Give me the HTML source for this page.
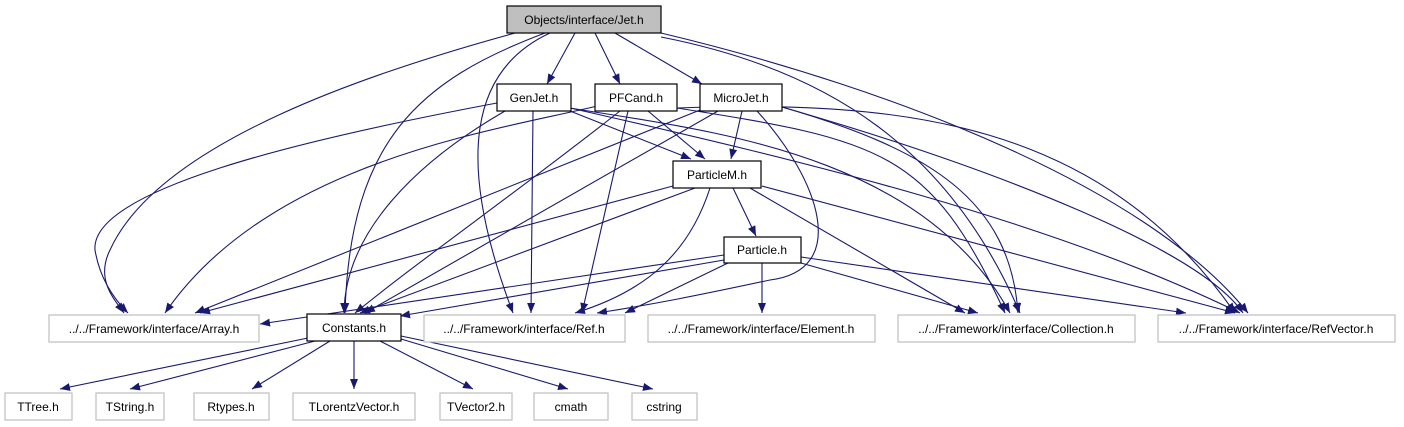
<!DOCTYPE html>
<html><head><meta charset="utf-8"><style>
html,body{margin:0;padding:0;background:#fff;}
svg{display:block;}
text{font-family:"Liberation Sans",sans-serif;font-size:12px;fill:#000;text-anchor:middle;}
.e{fill:none;stroke:#191970;stroke-width:1.1;marker-end:url(#a);}
.b{fill:#fff;stroke:#000;stroke-width:1.2;}
.g{fill:#fff;stroke:#bfbfbf;stroke-width:1.2;}
</style></head><body>
<svg width="1404" height="427" viewBox="0 0 1404 427" xmlns="http://www.w3.org/2000/svg">
<defs><marker id="a" viewBox="0 0 10 8" refX="10" refY="4" markerWidth="10" markerHeight="8" markerUnits="userSpaceOnUse" orient="auto"><path d="M0,0 L10,4 L0,8 z" fill="#191970"/></marker></defs>
<!-- Jet edges -->
<path class="e" d="M515,33 C380,70 160,140 110,250 C95,280 115,300 124,313"/>
<path class="e" d="M545,33 C420,80 350,140 345,313"/>
<path class="e" d="M550,33 C470,70 455,160 513,313"/>
<path class="e" d="M575,33 L547,84"/>
<path class="e" d="M595,33 L620,84"/>
<path class="e" d="M615,33 L702,84"/>
<path class="e" d="M661,37 C830,70 950,150 1020,313"/>
<path class="e" d="M661,33 C900,90 1150,190 1248,313"/>
<!-- GenJet -->
<path class="e" d="M497,103 C300,140 90,190 95,250 C100,280 115,300 128,313"/>
<path class="e" d="M505,111 C420,160 345,230 344,313"/>
<path class="e" d="M533,111 L531,313"/>
<path class="e" d="M570,111 L691,159"/>
<path class="e" d="M570,108 C700,130 920,150 1010,313"/>
<path class="e" d="M570,108 C800,160 1050,220 1240,313"/>
<!-- PFCand -->
<path class="e" d="M597,106 C500,130 270,160 165,313"/>
<path class="e" d="M620,111 C520,190 420,260 355,313"/>
<path class="e" d="M628,111 L582,313"/>
<path class="e" d="M648,111 L705,159"/>
<path class="e" d="M677,108 C880,140 930,150 1005,313"/>
<path class="e" d="M677,108 C900,100 1100,120 1235,313"/>
<!-- MicroJet -->
<path class="e" d="M742,111 L731,159"/>
<path class="e" d="M705,108 L195,313"/>
<path class="e" d="M718,111 L365,313"/>
<path class="e" d="M757,111 C820,180 850,270 770,280 C700,295 650,305 597,313"/>
<path class="e" d="M782,107 C930,150 1010,200 1018,313"/>
<path class="e" d="M782,107 C1000,170 1200,250 1243,313"/>
<!-- ParticleM -->
<path class="e" d="M733,188 L756,236"/>
<path class="e" d="M673,186 L200,313"/>
<path class="e" d="M695,188 L360,313"/>
<path class="e" d="M710,188 C690,250 650,290 575,313"/>
<path class="e" d="M750,188 L965,313"/>
<path class="e" d="M762,186 L1235,313"/>
<!-- Particle -->
<path class="e" d="M724,255 L260,324"/>
<path class="e" d="M724,260 L400,316"/>
<path class="e" d="M728,263 L625,313"/>
<path class="e" d="M762,263 L762,313"/>
<path class="e" d="M801,263 L978,313"/>
<path class="e" d="M801,257 L1186,313"/>
<!-- Constants -->
<path class="e" d="M308,338 L60,389"/>
<path class="e" d="M315,341 L130,389"/>
<path class="e" d="M330,341 L252,389"/>
<path class="e" d="M354,341 L354,389"/>
<path class="e" d="M380,341 L473,389"/>
<path class="e" d="M401,339 L568,389"/>
<path class="e" d="M401,336 L653,389"/>
<!-- Nodes -->
<rect x="507" y="6" width="154" height="27" fill="#bfbfbf" stroke="#000" stroke-width="1.2"/><text x="584" y="24">Objects/interface/Jet.h</text>
<rect class="b" x="497" y="84" width="74" height="27"/><text x="534" y="102">GenJet.h</text>
<rect class="b" x="595" y="84" width="82" height="27"/><text x="636" y="102">PFCand.h</text>
<rect class="b" x="700" y="84" width="82" height="27"/><text x="741" y="102">MicroJet.h</text>
<rect class="b" x="673" y="161" width="88" height="27"/><text x="717" y="179">ParticleM.h</text>
<rect class="b" x="724" y="237" width="77" height="26"/><text x="762" y="254">Particle.h</text>
<rect class="g" x="49" y="315" width="210" height="27"/><text x="154" y="333">../../Framework/interface/Array.h</text>
<rect class="b" x="307" y="314" width="94" height="27"/><text x="354" y="332">Constants.h</text>
<rect class="g" x="424" y="315" width="201" height="27"/><text x="524" y="333">../../Framework/interface/Ref.h</text>
<rect class="g" x="648" y="315" width="227" height="27"/><text x="761" y="333">../../Framework/interface/Element.h</text>
<rect class="g" x="898" y="315" width="237" height="27"/><text x="1016" y="333">../../Framework/interface/Collection.h</text>
<rect class="g" x="1158" y="315" width="237" height="27"/><text x="1276" y="333">../../Framework/interface/RefVector.h</text>
<rect class="g" x="5" y="393" width="67" height="27"/><text x="38" y="411">TTree.h</text>
<rect class="g" x="96" y="393" width="68" height="27"/><text x="130" y="411">TString.h</text>
<rect class="g" x="194" y="393" width="75" height="27"/><text x="231" y="411">Rtypes.h</text>
<rect class="g" x="293" y="393" width="122" height="27"/><text x="354" y="411">TLorentzVector.h</text>
<rect class="g" x="440" y="393" width="72" height="27"/><text x="476" y="411">TVector2.h</text>
<rect class="g" x="534" y="393" width="74" height="27"/><text x="571" y="411">cmath</text>
<rect class="g" x="632" y="393" width="65" height="27"/><text x="664" y="411">cstring</text>
</svg>
</body></html>
